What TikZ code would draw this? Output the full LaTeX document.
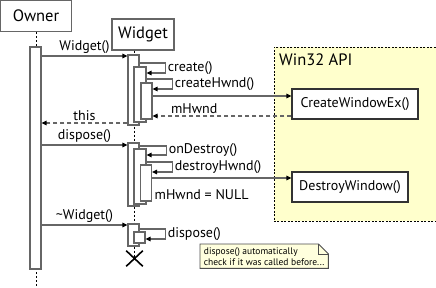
\documentclass[tikz,border=0pt]{standalone}
\usepackage{fontspec}
\setmainfont{PT Sans}
\usetikzlibrary{arrows.meta,shapes.misc,backgrounds}

\definecolor{linegray}{HTML}{666666}
\definecolor{apiyellow}{HTML}{FFFFCC}
\definecolor{noteyellow}{HTML}{FFFFDD}

\begin{document}
\begin{tikzpicture}[x=1pt, y=-1pt,
  head/.style={draw=linegray, line width=1.2pt, fill=white, inner sep=0pt, font=\fontsize{16.5}{18}\selectfont},
  act/.style={draw=linegray, line width=1.2pt, fill=white, inner sep=0pt, minimum width=11pt},
  life/.style={line width=0.8pt, dash pattern=on 2pt off 2pt},
  msg/.style={draw=linegray, line width=1.3pt, -{Triangle[length=5pt, width=4.5pt, black]}},
  ret/.style={msg, dash pattern=on 4pt off 3pt},
  lbl/.style={font=\fontsize{14}{16}\selectfont, inner sep=1.5pt},
  apibox/.style={draw, fill=apiyellow, line width=0.8pt, dash pattern=on 2pt off 1.5pt, inner sep=0pt},
  callee/.style={draw=black!80, line width=1.2pt, fill=white, inner sep=0pt, minimum height=30pt, font=\fontsize{14}{16}\selectfont},
  killmark/.style={draw, cross out, line width=1.6pt, inner sep=0pt, minimum width=15pt, minimum height=14pt}]

\useasboundingbox (0,0) rectangle (436,287);

% Win32 group
\node[apibox, anchor=north west, minimum width=162pt, minimum height=174pt] (api) at (273.5,47) {};
\node[anchor=west, inner sep=0pt, font=\fontsize{16.5}{18}\selectfont] (apititle) at (279,60) {Win32 API};
\node[callee, minimum width=126pt] (cwe) at (355,104) {CreateWindowEx()};
\node[callee, minimum width=116pt] (dw) at (350,187) {DestroyWindow()};

% objects and lifelines
\node[head, minimum width=71pt, minimum height=31pt] (owner) at (36,16) {Owner};
\node[head, minimum width=62pt, minimum height=31pt] (widget) at (143,34.5) {Widget};
\node[killmark] (kill) at (134.5,258.5) {};
\draw[life] (owner.south) -- (owner.south |- 0,287);
\draw[life] (kill |- widget.south) -- (kill.center);

% activations
\node[act, minimum height=222pt] (oa) at (35.5,158) {};
\node[act, minimum height=70pt] (wa1) at (133.5,90) {};
\node[act, minimum height=55pt, minimum width=12pt] (wa2) at (140,94.5) {};
\node[act, minimum height=36pt] (wa3) at (146.5,101) {};
\node[act, minimum height=63pt] (wb1) at (133.5,174.5) {};
\node[act, minimum height=55pt, minimum width=12pt] (wb2) at (140,176.5) {};
\node[act, minimum height=36pt] (wb3) at (146,183) {};
\node[act, minimum height=22pt] (wc1) at (133.5,235) {};
\node[act, minimum height=11pt] (wc2) at (139.5,237.5) {};

% message rows
\foreach \r/\y in {new/56,mk1/63,mk2/73,hw1/79,hw2/89,cw/96,hnd/116,this/123,
                   disp/145,od1/146,od2/155,dh1/162,dh2/172,dwin/178,del/225,sd1/229,sd2/239}
  \coordinate (\r) at (0,\y);

% construction
\draw[msg] (oa.east |- new) -- node[lbl, above] {Widget()} (wa1.west |- new);
\draw[msg] (wa1.east |- mk1) -- ++(26,0) |- node[lbl, pos=0.25, right] {create()} (wa2.east |- mk2);
\draw[msg] (wa2.east |- hw1) -- ++(26,0) |- node[lbl, pos=0.25, right] {createHwnd()} (wa3.east |- hw2);
\draw[msg] (wa3.east |- cw) -- (cwe.west |- cw);
\draw[ret] (cwe.west |- hnd) -- node[lbl, pos=0.7, above] {mHwnd} (wa3.east |- hnd);
\draw[ret] (wa1.west |- this) -- node[lbl, above] {this} (oa.east |- this);

% disposal
\draw[msg] (oa.east |- disp) -- node[lbl, above] {dispose()} (wb1.west |- disp);
\draw[msg] (wb1.east |- od1) -- ++(27,0) |- node[lbl, pos=0.25, right] {onDestroy()} (wb2.east |- od2);
\draw[msg] (wb2.east |- dh1) -- ++(26,0) |- node[lbl, pos=0.25, right] {destroyHwnd()} (wb3.east |- dh2);
\draw[msg] (wb3.east |- dwin) -- (dw.west |- dwin);
\node[lbl, anchor=west] (nulled) at (153,195) {mHwnd = NULL};

% destruction
\draw[msg] (oa.east |- del) -- node[lbl, above] {\textasciitilde Widget()} (wc1.west |- del);
\draw[msg] (wc1.east |- sd1) -- ++(26,0) |- node[lbl, pos=0.25, right] {dispose()} (wc2.east |- sd2);

% note
\node[anchor=north west, align=left, inner sep=2.5pt, minimum width=128pt, minimum height=24pt,
      font=\fontsize{9.5}{11}\selectfont] (note) at (200,244)
  {dispose() automatically\\check if it was called before...};
\begin{pgfonlayer}{background}
  \filldraw[draw=black!70, fill=noteyellow, line width=0.9pt]
    (note.south west) -- (note.south east) -- ([yshift=-10pt]note.north east)
    -- ([xshift=-10pt]note.north east) -- (note.north west) -- cycle;
  \draw[black!70, line width=0.7pt] ([xshift=-10pt]note.north east)
    -- ([xshift=-10pt, yshift=-10pt]note.north east) -- ([yshift=-10pt]note.north east);
\end{pgfonlayer}
\end{tikzpicture}
\end{document}
